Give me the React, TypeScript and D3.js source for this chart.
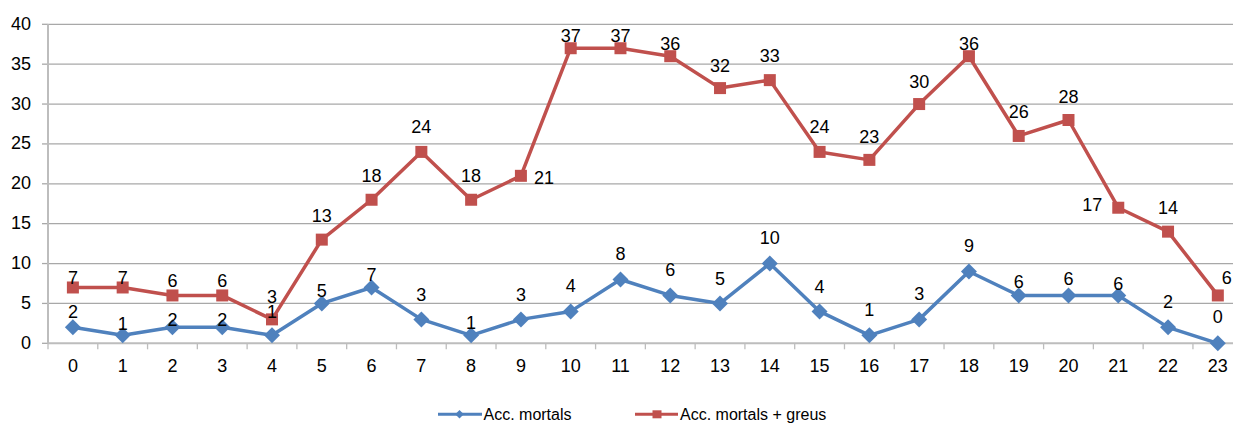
import React from "react";
import * as d3 from "d3";

const hours = d3.range(0, 24).map(String);
const mortals = [2, 1, 2, 2, 1, 5, 7, 3, 1, 3, 4, 8, 6, 5, 10, 4, 1, 3, 9, 6, 6, 6, 2, 0];
const mortalsGreus = [7, 7, 6, 6, 3, 13, 18, 24, 18, 21, 37, 37, 36, 32, 33, 24, 23, 30, 36, 26, 28, 17, 14, 6];
const yTicks = [0, 5, 10, 15, 20, 25, 30, 35, 40];

// Hand-placed data label offsets (label centre relative to the point, px)
const blueLabelDy = [-16, -12, -8, -8, -24, -13, -13, -25, -13, -25, -26, -26, -26, -25, -26, -25, -26, -26, -26, -14, -17, -12, -26, -27];
const redLabelDy = [-10, -10, -15, -15, -23, -24, -24, -25, -24, 2, -13, -13, -13, -23, -25, -25, -23, -23, -13, -24, -24, -3, -24, -18];
const redLabelDx = [0, 0, 0, 0, 0, 0, 0, 0, 0, 23, 0, 0, 0, 0, 0, 0, 0, 0, 0, 0, 0, -26, 0, 9];

const W = 1233;
const H = 424;
const left = 48;
const top = 24.3;
const bottom = 343.3;
const step = 49.78;

const BLUE = "#4F81BD";
const RED = "#C0504D";
const FONT = "'Liberation Sans', Arial, sans-serif";
const FS = 18;

export default function App() {
  const x = d3.scaleBand<string>().domain(hours).range([left, left + step * hours.length]);
  const y = d3.scaleLinear().domain([0, 40]).range([bottom, top]);
  const cx = (i: number) => (x(hours[i]) as number) + x.bandwidth() / 2;
  const line = d3
    .line<number>()
    .x((_, i) => cx(i))
    .y((d) => y(d));

  return (
    <svg width={W} height={H} style={{ position: "absolute", left: 0, top: 0, background: "#fff" }}>
      {yTicks.map((t) => (
        <g key={t}>
          {t > 0 && <line x1={left} x2={W} y1={y(t)} y2={y(t)} stroke="#a8a8a8" strokeWidth={1.3} />}
          <line x1={left - 6} x2={left} y1={y(t)} y2={y(t)} stroke="#a8a8a8" strokeWidth={1.3} />
          <text x={31} y={y(t) + 5.5} textAnchor="end" fontFamily={FONT} fontSize={FS} fill="#000">
            {t}
          </text>
        </g>
      ))}
      <line x1={left} x2={left} y1={top} y2={bottom} stroke="#bdbdbd" strokeWidth={2} />
      <line x1={left} x2={W} y1={bottom} y2={bottom} stroke="#bdbdbd" strokeWidth={2} />
      {d3.range(0, hours.length + 1).map((i) => (
        <line key={i} x1={left + i * step} x2={left + i * step} y1={bottom} y2={bottom + 6} stroke="#bdbdbd" strokeWidth={1.3} />
      ))}
      {hours.map((h, i) => (
        <text key={h} x={cx(i)} y={371.5} textAnchor="middle" fontFamily={FONT} fontSize={FS} fill="#000">
          {h}
        </text>
      ))}

      <path d={line(mortalsGreus) ?? ""} fill="none" stroke={RED} strokeWidth={3.5} strokeLinejoin="round" />
      {mortalsGreus.map((v, i) => (
        <rect key={i} x={cx(i) - 6} y={y(v) - 6} width={12} height={12} fill={RED} />
      ))}

      <path d={line(mortals) ?? ""} fill="none" stroke={BLUE} strokeWidth={3.5} strokeLinejoin="round" />
      {mortals.map((v, i) => (
        <path
          key={i}
          d={`M${cx(i)},${y(v) - 8}L${cx(i) + 8},${y(v)}L${cx(i)},${y(v) + 8}L${cx(i) - 8},${y(v)}Z`}
          fill={BLUE}
        />
      ))}

      {mortalsGreus.map((v, i) => (
        <text
          key={i}
          x={cx(i) + redLabelDx[i]}
          y={y(v) + redLabelDy[i] + 6.5}
          textAnchor="middle"
          fontFamily={FONT}
          fontSize={FS}
          fill="#000"
        >
          {v}
        </text>
      ))}
      {mortals.map((v, i) => (
        <text key={i} x={cx(i)} y={y(v) + blueLabelDy[i] + 6.5} textAnchor="middle" fontFamily={FONT} fontSize={FS} fill="#000">
          {v}
        </text>
      ))}

      <g fontFamily={FONT} fontSize={16} fill="#000">
        <line x1={438} x2={482} y1={414.3} y2={414.3} stroke={BLUE} strokeWidth={3} />
        <path d="M459.5,410L463.8,414.3L459.5,418.6L455.2,414.3Z" fill={BLUE} />
        <text x={483.5} y={420}>Acc. mortals</text>
        <line x1={635} x2={678} y1={414.3} y2={414.3} stroke={RED} strokeWidth={3} />
        <rect x={652.5} y={410.3} width={9} height={8} fill={RED} />
        <text x={680} y={420}>Acc. mortals + greus</text>
      </g>
    </svg>
  );
}
